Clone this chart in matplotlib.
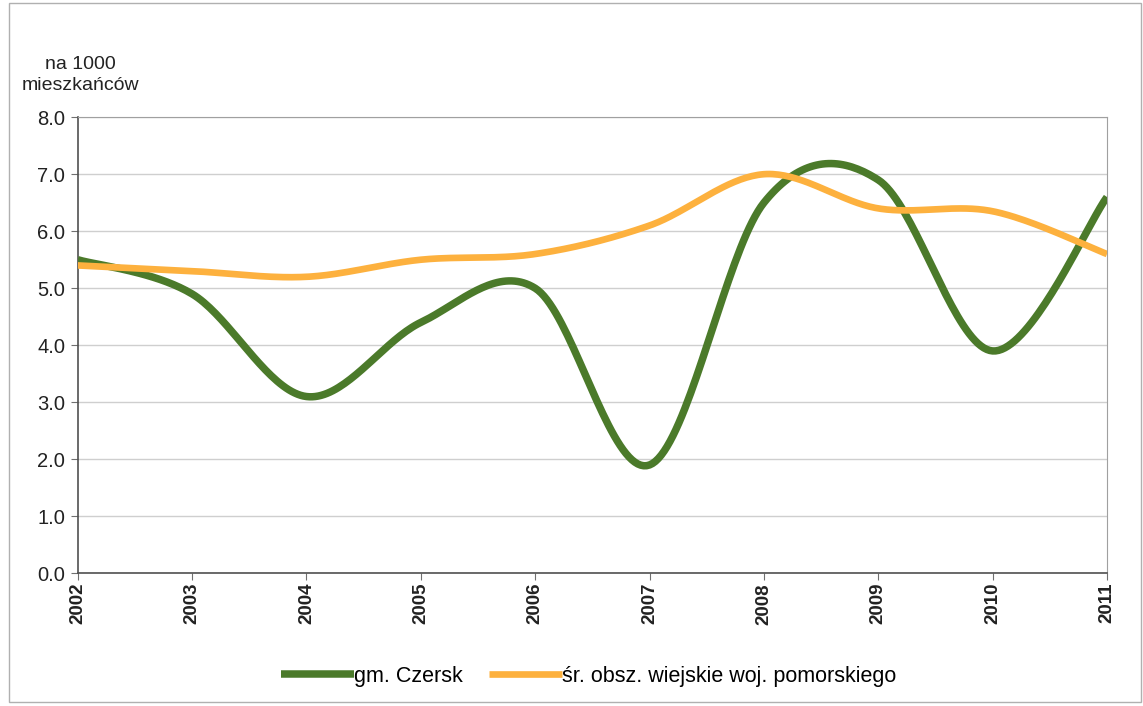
import numpy as np
import matplotlib
matplotlib.use("Agg")
import matplotlib.pyplot as plt
from matplotlib.patches import Rectangle

years = [2002, 2003, 2004, 2005, 2006, 2007, 2008, 2009, 2010, 2011]
czersk = [5.5, 4.9, 3.1, 4.4, 5.0, 1.9, 6.5, 6.9, 3.9, 6.6]
pomorskie = [5.4, 5.3, 5.2, 5.5, 5.6, 6.1, 7.0, 6.4, 6.35, 5.6]
yticks = [0.0, 1.0, 2.0, 3.0, 4.0, 5.0, 6.0, 7.0, 8.0]
label_czersk = "gm. Czersk"
label_pom = "śr. obsz. wiejskie woj. pomorskiego"
ylabel = "na 1000\nmieszkańców"

plt.rcParams['font.family'] = ['Liberation Sans', 'DejaVu Sans']


def smooth(xs, ys, n=40):
    # Excel-like smoothed line (Catmull-Rom Bezier)
    xs = np.asarray(xs, float)
    ys = np.asarray(ys, float)
    px = np.concatenate([[xs[0]], xs, [xs[-1]]])
    py = np.concatenate([[ys[0]], ys, [ys[-1]]])
    ox, oy = [], []
    t = np.linspace(0, 1, n)
    for i in range(1, len(px) - 2):
        p0 = np.array([px[i], py[i]])
        p3 = np.array([px[i + 1], py[i + 1]])
        p1 = p0 + (np.array([px[i + 1], py[i + 1]]) - np.array([px[i - 1], py[i - 1]])) / 6
        p2 = p3 - (np.array([px[i + 2], py[i + 2]]) - np.array([px[i], py[i]])) / 6
        b = ((1 - t) ** 3)[:, None] * p0 + (3 * (1 - t) ** 2 * t)[:, None] * p1 \
            + (3 * (1 - t) * t ** 2)[:, None] * p2 + (t ** 3)[:, None] * p3
        ox.extend(b[:, 0]); oy.extend(b[:, 1])
    return ox, oy


fig = plt.figure(figsize=(11.43, 7.06), dpi=100)
ax = fig.add_axes([0.068, 0.188, 0.9005, 0.646])

gx, gy = smooth(years, czersk)
ox, oy = smooth(years, pomorskie)
ax.plot(gx, gy, color="#4B7A2A", lw=5.4, solid_capstyle="butt", label=label_czersk, zorder=3)
ax.plot(ox, oy, color="#FDB13E", lw=4.8, solid_capstyle="butt", label=label_pom, zorder=3)

ax.set_xlim(years[0], years[-1])
ax.set_ylim(0, 8)
ax.set_yticks(yticks)
ax.set_yticklabels([f"{v:.1f}" for v in yticks], fontsize=14.5)
ax.set_xticks(years)
ax.set_xticklabels([str(y) for y in years], rotation=90, fontsize=13.5, fontweight="bold")
ax.grid(axis="y", color="#CFCFCF", lw=1.0)
ax.set_axisbelow(True)
for s in ["top", "right"]:
    ax.spines[s].set_color("#A0A0A0")
for s in ["left", "bottom"]:
    ax.spines[s].set_color("#505050")
    ax.spines[s].set_linewidth(1.2)
ax.tick_params(axis="both", direction="out", length=5, color="#707070", colors="#222222")
ax.tick_params(axis="x", pad=2)
ax.tick_params(axis="y", pad=4)

fig.text(0.07, 0.867, ylabel, fontsize=14, ha="center", va="bottom", linespacing=1.3,
         color="#222222", multialignment="center")

leg = fig.legend(loc="lower center", bbox_to_anchor=(0.515, 0.0), ncol=2, frameon=False,
                 fontsize=15.5, handlelength=3.4, handletextpad=0.0, columnspacing=1.2)

fig.patches.append(Rectangle((0.008, 0.006), 0.99, 0.99, transform=fig.transFigure,
                             fill=False, edgecolor="#B0B0B0", lw=1.0))

fig.savefig("out.png", dpi=100)
